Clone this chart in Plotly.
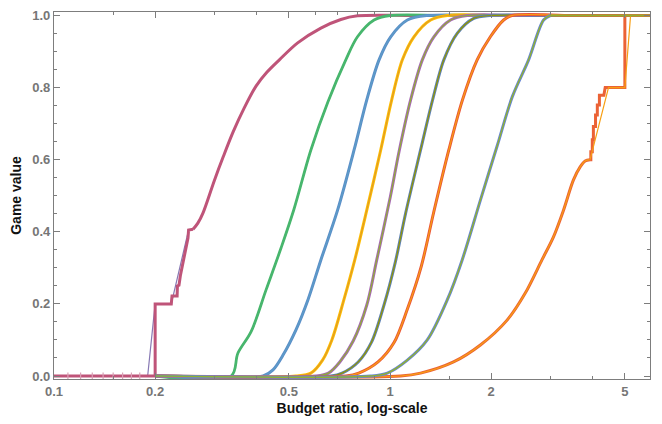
import plotly.graph_objects as go

# ---------------- data ----------------
x_ticks = [0.1, 0.2, 0.5, 1, 2, 5]
x_tick_labels = ["0.1", "0.2", "0.5", "1", "2", "5"]
x_minor = [0.15, 0.3, 0.4, 0.6, 0.7, 0.8, 0.9, 1.5, 3, 4]
y_ticks = [0.0, 0.2, 0.4, 0.6, 0.8, 1.0]
y_tick_labels = ["0.0", "0.2", "0.4", "0.6", "0.8", "1.0"]

# curve 1: stepped lower part + smooth upper part
c1s_x = [0.1, 0.2, 0.2, 0.2234, 0.2245, 0.2325, 0.2330, 0.2355, 0.2377, 0.2405, 0.2420,
         0.2465, 0.2505, 0.2515, 0.2594]
c1s_y = [0, 0, 0.2, 0.2, 0.222, 0.222, 0.25, 0.252, 0.278, 0.302, 0.317,
         0.359, 0.383, 0.405, 0.407]
c1st_x = [0.1, 0.19, 0.2, 0.2234, 0.2515, 0.2594]
c1st_y = [0, 0, 0.2, 0.2, 0.405, 0.407]
c1_x = [0.2594, 0.2680, 0.2775, 0.3005, 0.3189, 0.3413, 0.3680,
        0.3993, 0.4306, 0.4685, 0.5311, 0.6227, 0.7140, 0.8002, 1.2, 5.94]
c1_y = [0.407, 0.424, 0.452, 0.544, 0.608, 0.677, 0.743,
        0.804, 0.843, 0.877, 0.924, 0.965, 0.989, 0.999, 1.0, 1.0]
c1_marks_x = [0.11, 0.12, 0.13, 0.14, 0.15, 0.16, 0.17, 0.18]
c1_marks_y = [0, 0, 0, 0, 0, 0, 0, 0]

c2_x = [0.2, 0.3367, 0.3525, 0.3860, 0.4277, 0.4739, 0.5170, 0.5815, 0.6533, 0.7386,
        0.8002, 0.8965, 1.0, 1.5, 5.94]
c2_y = [0, 0, 0.063, 0.123, 0.239, 0.355, 0.4605, 0.627, 0.760, 0.877,
        0.941, 0.9875, 1.0, 1.0, 1.0]

c3_x = [0.2, 0.4191, 0.4485, 0.4804, 0.5250, 0.5697, 0.6227, 0.6982, 0.7818, 0.8528,
        0.9277, 1.0048, 1.1261, 1.291, 2.0, 5.94]
c3_y = [0, 0, 0.017, 0.058, 0.128, 0.211, 0.322, 0.46, 0.627, 0.766,
        0.877, 0.941, 0.9875, 1.0, 1.0, 1.0]

c4_x = [0.2, 0.5247, 0.5815, 0.6299, 0.6714, 0.7288, 0.7855, 0.8528, 0.9384, 1.0117,
        1.0884, 1.1783, 1.3210, 1.4804, 2.2, 5.94]
c4_y = [0, 0, 0.008, 0.044, 0.1, 0.211, 0.322, 0.46, 0.627, 0.766,
        0.877, 0.941, 0.9875, 1.0, 1.0, 1.0]

c5_x = [0.2, 0.6015, 0.6560, 0.7090, 0.7770, 0.8530, 0.9131, 1.0020, 1.0634, 1.1518,
        1.2479, 1.3509, 1.5138, 1.6972, 2.5, 5.94]
c5_y = [0, 0, 0.008, 0.039, 0.097, 0.197, 0.322, 0.4965, 0.6214, 0.766,
        0.877, 0.941, 0.9875, 1.0, 1.0, 1.0]

c6_x = [0.2, 0.6668, 0.7200, 0.8042, 0.8811, 0.9598, 1.0372, 1.1133, 1.2331, 1.3390,
        1.4461, 1.5849, 1.7755, 1.9894, 3.0, 5.94]
c6_y = [0, 0, 0.008, 0.039, 0.094, 0.197, 0.316, 0.452, 0.627, 0.766,
        0.877, 0.9506, 0.992, 1.0, 1.0, 1.0]

c7_x = [0.2, 0.7386, 0.8071, 0.9211, 1.0269, 1.1239, 1.2396, 1.3498, 1.4963, 1.6434,
        1.8171, 1.9894, 2.1790, 2.3077, 3.5, 5.94]
c7_y = [0, 0, 0.008, 0.039, 0.092, 0.183, 0.305, 0.455, 0.627, 0.766,
        0.877, 0.941, 0.9875, 1.0, 1.0, 1.0]

c8_x = [0.2, 0.8763, 0.9824, 1.1261, 1.291, 1.4804, 1.6400, 1.8581, 2.0868, 2.3125,
        2.5853, 2.8642, 3.0]
c8_y = [0, 0, 0.008, 0.044, 0.1, 0.211, 0.322, 0.488, 0.64, 0.775,
        0.877, 0.9875, 1.0]
c8f_x = [3.0, 5.94]
c8f_y = [1.0, 1.0]

# curve 9: smooth lower part + stepped upper part
c9_x = [0.2, 1.0759, 1.2331, 1.5453, 1.8581, 2.2311, 2.527, 2.8329, 3.066, 3.284,
        3.5156, 3.6808, 3.8084, 3.9402]
c9_y = [0, 0, 0.008, 0.039, 0.086, 0.155, 0.23, 0.322, 0.386, 0.46,
        0.544, 0.58, 0.5965, 0.6]
c9s_x = [3.9402, 3.96, 3.96, 4.0, 4.0, 4.03, 4.03, 4.09, 4.09,
         4.14, 4.14, 4.2, 4.2, 4.33, 4.37, 5.0, 5.0, 5.94]
c9s_y = [0.6, 0.6, 0.622, 0.622, 0.655, 0.655, 0.692, 0.692, 0.724,
         0.724, 0.752, 0.752, 0.779, 0.779, 0.8, 0.8, 1.0, 1.0]
c9st_x = [3.9402, 4.47, 5.0, 5.2, 5.94]
c9st_y = [0.6, 0.8, 0.8, 1.0, 1.0]

# ---------------- styling ----------------
# drawing order: earlier entries are underneath
segments = [
    (c1st_x, c1st_y, "#8778B3", 1.2, False), (c1_x, c1_y, "#8778B3", 1.2, True),
    (c1s_x, c1s_y, "#BF5479", 3.0, False), (c1_x, c1_y, "#BF5479", 3.0, True),
    (c2_x, c2_y, "#C56E1A", 1.4, True), (c2_x, c2_y, "#47B66D", 2.8, True),
    (c3_x, c3_y, "#5B8DC9", 3.0, True), (c3_x, c3_y, "#5D9EC7", 1.2, True),
    (c4_x, c4_y, "#FFBF00", 3.0, True), (c4_x, c4_y, "#E19C24", 1.2, True),
    (c5_x, c5_y, "#A668B4", 3.0, True), (c5_x, c5_y, "#8FB032", 1.2, True),
    (c6_x, c6_y, "#5E81B5", 3.0, True), (c6_x, c6_y, "#929600", 1.2, True),
    (c7_x, c7_y, "#E95536", 3.0, True), (c7_x, c7_y, "#F89F13", 1.2, True),
    (c9_x, c9_y, "#EB6235", 3.0, True), (c9_x, c9_y, "#F89F13", 1.2, True),
    (c9s_x, c9s_y, "#EB6235", 3.0, False), (c9st_x, c9st_y, "#F89F13", 1.2, False),
    (c8_x, c8_y, "#6685D9", 3.0, True), (c8_x, c8_y, "#8FB032", 1.4, True),
    (c8f_x, c8f_y, "#8FB032", 2.2, False),
]

fig = go.Figure()
for xs, ys, col, w, smooth in segments:
    shape = dict(shape="spline", smoothing=0.9) if smooth else dict(shape="linear")
    fig.add_trace(go.Scatter(x=xs, y=ys, mode="lines",
                             line=dict(color=col, width=w, **shape),
                             hoverinfo="skip", showlegend=False))

fig.add_trace(go.Scatter(x=c1_marks_x, y=c1_marks_y, mode="markers",
                         marker=dict(symbol="line-ns", size=5,
                                     line=dict(color="#D9A0B5", width=1.2)),
                         hoverinfo="skip", showlegend=False))

frame = "#7d7d7d"
tickfont = dict(family="Liberation Sans", size=13, color="#767676", weight="bold")
titlefont = dict(family="Liberation Sans", size=14, color="#111111", weight="bold")

# the page body has an 8px margin, so the figure is sized to fit inside it
fig.update_layout(
    width=646, height=408,
    margin=dict(l=46, r=4, t=4, b=37, autoexpand=False),
    paper_bgcolor="white", plot_bgcolor="white",
    showlegend=False,
    xaxis=dict(type="log", range=[-1.0, 0.7738], automargin=False,
               tickmode="array", tickvals=x_ticks, ticktext=x_tick_labels,
               ticks="inside", ticklen=6, tickwidth=1, tickcolor=frame,
               showline=True, linecolor=frame, linewidth=1.2, mirror="allticks",
               showgrid=False, zeroline=False,
               minor=dict(tickmode="array", tickvals=x_minor, ticks="inside",
                          ticklen=3, tickcolor=frame, showgrid=False),
               tickfont=tickfont,
               title=dict(text="Budget ratio, log-scale", font=titlefont, standoff=10)),
    yaxis=dict(range=[-0.0083, 1.0097], automargin=False,
               tickmode="array", tickvals=y_ticks, ticktext=y_tick_labels,
               ticks="inside", ticklen=6, tickwidth=1, tickcolor=frame,
               showline=True, linecolor=frame, linewidth=1.2, mirror="allticks",
               showgrid=False, zeroline=False,
               minor=dict(dtick=0.05, tick0=0, ticks="inside", ticklen=3,
                          tickcolor=frame, showgrid=False),
               tickfont=tickfont,
               title=dict(text="Game value", font=titlefont, standoff=8)),
)

fig.write_html("out.html")
